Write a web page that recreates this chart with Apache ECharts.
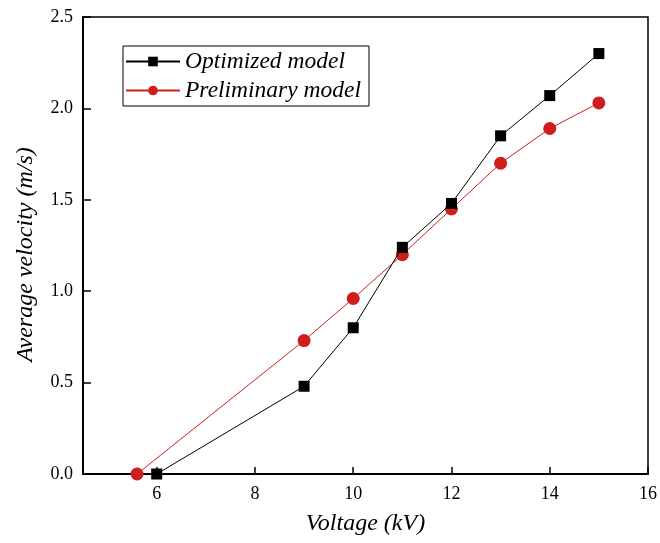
<!DOCTYPE html>
<html>
<head>
<meta charset="utf-8">
<script src="https://cdn.jsdelivr.net/npm/echarts@6/dist/echarts.min.js"></script>
<style>
  html, body { margin: 0; padding: 0; background: #fff; }
  #chart { width: 660px; height: 543px; }
</style>
</head>
<body>
<div id="chart"></div>
<script>
// voltage (kV) vs. average velocity (m/s)
var optVoltage = [6, 9, 10, 11, 12, 13, 14, 15]
var optVelocity = [0, 0.48, 0.80, 1.24, 1.48, 1.85, 2.07, 2.30]
var preVoltage = [5.6, 9, 10, 11, 12, 13, 14, 15]
var preVelocity = [0, 0.73, 0.96, 1.20, 1.45, 1.70, 1.89, 2.03]
var xTicks = [6, 8, 10, 12, 14, 16]

function pairs (xs, ys) {
  return xs.map(function (x, i) { return [x, ys[i]] })
}

var myChart = echarts.init(document.getElementById('chart'))
var serif = '"Liberation Serif", "DejaVu Serif", serif'

myChart.setOption({
  animation: false,
  grid: {
    left: 83,
    right: 10,
    top: 17,
    bottom: 69,
    show: true,
    borderColor: '#000',
    borderWidth: 1.5
  },
  legend: {
    left: 123,
    top: 46,
    orient: 'vertical',
    itemWidth: 54,
    itemHeight: 12,
    itemGap: 6,
    padding: [4, 8, 4, 2],
    borderColor: '#000',
    borderWidth: 1,
    borderRadius: 0,
    textStyle: {
      fontFamily: serif,
      fontStyle: 'italic',
      fontSize: 23.5,
      color: '#000'
    },
    data: ['Optimized model', 'Preliminary model']
  },
  xAxis: {
    type: 'value',
    min: 4.5,
    max: 16,
    name: 'Voltage (kV)',
    nameLocation: 'middle',
    nameGap: 38,
    nameTextStyle: {
      fontFamily: serif,
      fontStyle: 'italic',
      fontSize: 24,
      color: '#000'
    },
    splitLine: { show: false },
    axisLine: { show: true, lineStyle: { color: '#000', width: 2 } },
    axisTick: {
      show: true,
      inside: true,
      length: 7,
      customValues: xTicks,
      lineStyle: { color: '#000', width: 1.5 }
    },
    axisLabel: {
      customValues: xTicks,
      margin: 11,
      fontFamily: serif,
      fontSize: 18,
      color: '#000'
    }
  },
  yAxis: {
    type: 'value',
    min: 0,
    max: 2.5,
    interval: 0.5,
    name: 'Average velocity (m/s)',
    nameLocation: 'middle',
    nameGap: 45,
    nameTextStyle: {
      fontFamily: serif,
      fontStyle: 'italic',
      fontSize: 24,
      color: '#000',
      padding: [0, 18, 0, 0]
    },
    splitLine: { show: false },
    axisLine: { show: true, lineStyle: { color: '#000', width: 2 } },
    axisTick: {
      show: true,
      inside: true,
      length: 8,
      lineStyle: { color: '#000', width: 1.5 }
    },
    axisLabel: {
      margin: 10,
      fontFamily: serif,
      fontSize: 18,
      color: '#000',
      formatter: function (v) { return v.toFixed(1) }
    }
  },
  series: [
    {
      name: 'Optimized model',
      type: 'line',
      data: pairs(optVoltage, optVelocity),
      symbol: 'rect',
      symbolSize: 11,
      color: '#000',
      lineStyle: { color: '#000', width: 1 },
      itemStyle: { color: '#000' },
      z: 3
    },
    {
      name: 'Preliminary model',
      type: 'line',
      data: pairs(preVoltage, preVelocity),
      symbol: 'circle',
      symbolSize: 13,
      color: '#d01e1e',
      lineStyle: { color: '#d01e1e', width: 1 },
      itemStyle: { color: '#d01e1e' },
      z: 2
    }
  ]
})
</script>
</body>
</html>
